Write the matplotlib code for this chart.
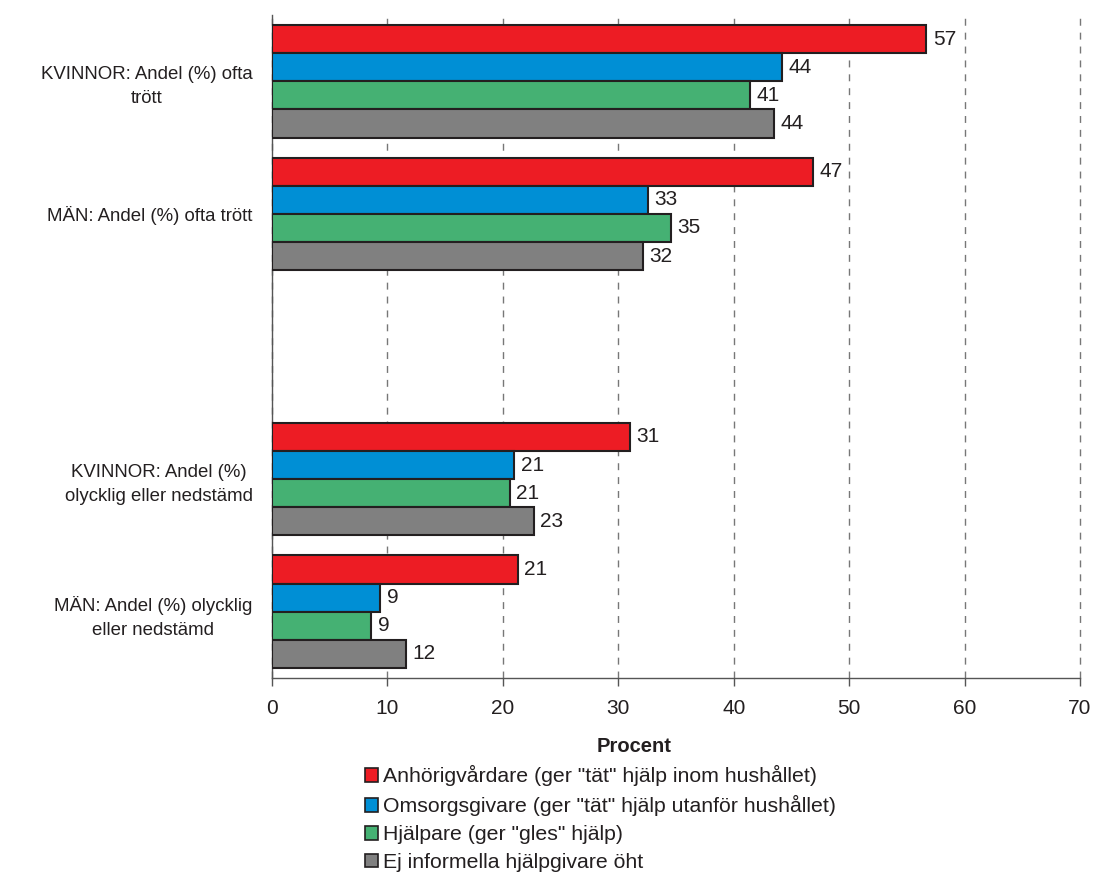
import numpy as np
import matplotlib
matplotlib.use("Agg")
import matplotlib.pyplot as plt
from matplotlib.patches import Patch

plt.rcParams['font.family'] = ['Liberation Sans', 'DejaVu Sans']

# kategorier uppifrån och ned; tom plats mellan trött och nedstämd
kategorier = ["KVINNOR: Andel (%) ofta\ntrött",
              "MÄN: Andel (%) ofta trött",
              "",
              "KVINNOR: Andel (%)\nolycklig eller nedstämd",
              "MÄN: Andel (%) olycklig\neller nedstämd"]
serier = ['Anhörigvårdare (ger "tät" hjälp inom hushållet)',
          'Omsorgsgivare (ger "tät" hjälp utanför hushållet)',
          'Hjälpare (ger "gles" hjälp)',
          'Ej informella hjälpgivare öht']
anhorig = [56.7, 46.9, np.nan, 31.0, 21.3]
omsorg = [44.2, 32.6, np.nan, 21.0, 9.4]
hjalpare = [41.4, 34.6, np.nan, 20.6, 8.6]
ej_info = [43.5, 32.1, np.nan, 22.7, 11.6]
farger = ['#ED1C24', '#008FD5', '#45B173', '#808080']

varden = [anhorig, omsorg, hjalpare, ej_info]

fig = plt.figure(figsize=(10.94, 8.92), dpi=100)
ax = fig.add_axes([0.2486, 0.2399, 0.7386, 0.7433])

n = len(kategorier)
y = np.arange(n)
h = 0.212
for i, (v, c) in enumerate(zip(varden, farger)):
    pos = y - 1.5 * h + i * h
    ax.barh(pos, v, height=h, color=c, edgecolor='#231F20', linewidth=1.5, zorder=3)
    for p, val in zip(pos, v):
        if np.isnan(val):
            continue
        ax.text(val + 0.55, p, f"{val:.0f}", va='center', ha='left', fontsize=15,
                color='#231F20', zorder=4,
                bbox=dict(facecolor='white', edgecolor='none', pad=1))

ax.set_ylim(n - 0.5, -0.5)
ax.set_xlim(0, 70)
ax.set_xticks(range(0, 71, 10))
ax.set_yticks(y)
ax.set_yticklabels(kategorier, fontsize=13.4, color='#231F20', linespacing=1.55)
for t in ax.get_yticklabels():
    t.set_multialignment('center')
ax.tick_params(axis='y', length=0, pad=14)
ax.tick_params(axis='x', length=6, width=1, color='#555555', labelsize=15,
               labelcolor='#231F20', pad=9)
ax.xaxis.grid(True, linestyle=(0, (5, 5)), color='#777777', linewidth=1, zorder=0)
for gl in ax.get_xgridlines():
    gl.set_clip_on(False)
ax.set_axisbelow(True)
for s in ['top', 'right']:
    ax.spines[s].set_visible(False)
for s in ['left', 'bottom']:
    ax.spines[s].set_color('#555555')
    ax.spines[s].set_linewidth(1)

fig.text(0.580, 0.163, "Procent", ha='center', va='center', fontsize=14.5,
         fontweight='bold', color='#231F20')

handles = [Patch(facecolor=c, edgecolor='#231F20', linewidth=1.2) for c in farger]
fig.legend(handles, serier, loc='upper left', bbox_to_anchor=(0.334, 0.142),
           frameon=False, fontsize=15.3, handlelength=0.6, handleheight=0.6,
           handletextpad=0.25, labelspacing=0.42, borderpad=0, borderaxespad=0,
           labelcolor='#231F20')

fig.savefig("out.png", dpi=100)
